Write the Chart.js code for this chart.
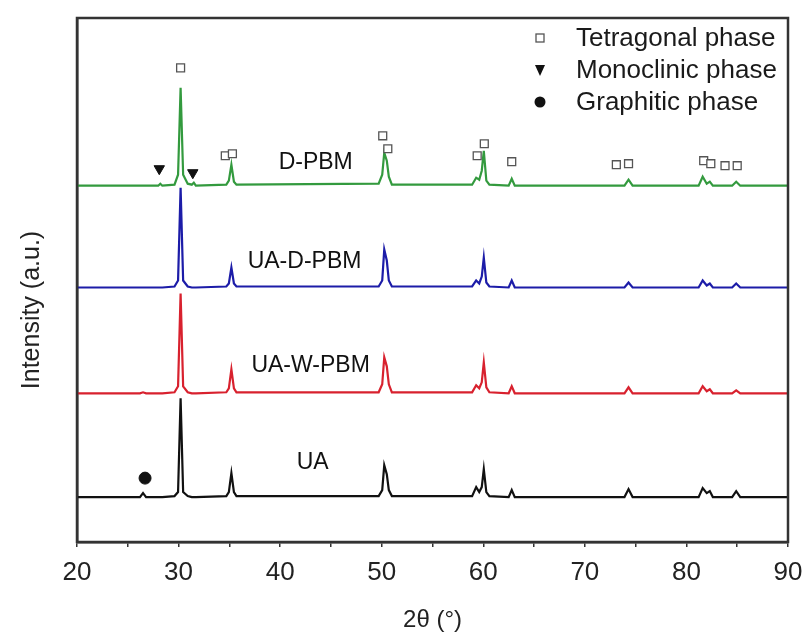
<!DOCTYPE html>
<html>
<head>
<meta charset="utf-8">
<script src="https://cdn.jsdelivr.net/npm/chart.js@4.4.1/dist/chart.umd.min.js"></script>
<style>
  html, body { margin: 0; padding: 0; background: #fff; }
  #wrap { width: 808px; height: 639px; }
</style>
</head>
<body>
<div id="wrap"><canvas id="c" width="808" height="639"></canvas></div>
<script>
// 2θ positions (degrees) at which the traces were read
const angles = [20, 26.2, 26.5, 26.8, 28.0, 28.2, 28.4, 29.6, 29.95, 30.2, 30.45, 30.9, 31.3, 31.5, 31.7,
  34.7, 34.95, 35.2, 35.45, 35.7, 49.7, 50.05, 50.25, 50.5, 50.7, 51.0, 58.9, 59.3, 59.6, 59.85, 60.05,
  60.3, 60.6, 62.5, 62.8, 63.1, 73.9, 74.3, 74.7, 81.2, 81.6, 82.0, 82.3, 82.6, 84.5, 84.9, 85.3, 90];

// Intensities (a.u., stacked as drawn)
const dPBM = [357, 357, 357, 357, 357, 359, 357, 358, 368, 455, 368, 359, 358, 360, 357,
  358, 362, 378, 361, 358, 359, 368, 390, 382, 366, 358, 358, 365, 363, 372, 392,
  362, 358, 357, 364, 357, 357, 363, 357, 357, 366, 359, 361, 357, 357, 361, 357, 357];
const uaDPBM = [255, 255, 255, 255, 255, 255, 255, 256, 262, 355, 262, 256, 255, 255, 255,
  256, 259, 275, 259, 256, 256, 262, 293, 282, 262, 256, 256, 262, 259, 266, 285,
  260, 256, 255, 262, 255, 255, 260, 255, 255, 262, 257, 259, 255, 255, 259, 255, 255];
const uaWPBM = [149, 149, 150, 149, 149, 149, 149, 150, 156, 249, 156, 150, 149, 149, 149,
  150, 154, 173, 154, 150, 150, 158, 185, 176, 158, 150, 150, 157, 154, 160, 180,
  155, 150, 149, 156, 149, 149, 155, 149, 149, 156, 151, 153, 149, 149, 152, 149, 149];
const uaOnly = [45, 45, 49, 45, 45, 45, 45, 46, 50, 144, 50, 46, 45, 45, 45,
  46, 50, 69, 50, 46, 46, 52, 77, 68, 52, 46, 46, 55, 50, 55, 73,
  50, 46, 45, 52, 45, 45, 53, 45, 45, 54, 49, 51, 45, 45, 51, 45, 45];

// Phase markers
const tetraX = [30.2, 34.6, 35.3, 50.1, 50.6, 59.4, 60.1, 62.8, 73.1, 74.3, 81.7, 82.4, 83.8, 85.0];
const tetraY = [475, 387, 389, 407, 394, 387, 399, 381, 378, 379, 382, 379, 377, 377];
const monoX = [28.1, 31.4];
const monoY = [374, 370];
const graphX = [26.7];
const graphY = [64];

// Sample names and their anchors
const sampleNames = ['D-PBM', 'UA-D-PBM', 'UA-W-PBM', 'UA'];
const nameX = [43.5, 42.4, 43.0, 43.2];
const nameY = [380, 281, 177, 79];

const legendNames = ['Tetragonal phase', 'Monoclinic phase', 'Graphitic phase'];
const yTitle = 'Intensity (a.u.)';
const xTickStep = 5;

const pts = (xs, ys) => xs.map((x, i) => ({ x: x, y: ys[i] }));
const FONT = '"Liberation Sans", Arial, Helvetica, sans-serif';

function drawMarker(ctx, kind, x, y) {
  ctx.save();
  if (kind === 0) {
    ctx.fillStyle = '#fff'; ctx.strokeStyle = '#555'; ctx.lineWidth = 1.3;
    ctx.fillRect(x - 4, y - 4, 8, 8); ctx.strokeRect(x - 4, y - 4, 8, 8);
  } else if (kind === 1) {
    ctx.fillStyle = '#111';
    ctx.beginPath(); ctx.moveTo(x - 5, y - 5); ctx.lineTo(x + 5, y - 5); ctx.lineTo(x, y + 6); ctx.closePath(); ctx.fill();
  } else {
    ctx.fillStyle = '#111';
    ctx.beginPath(); ctx.arc(x, y, 5.5, 0, Math.PI * 2); ctx.fill();
  }
  ctx.restore();
}

const decor = {
  id: 'decor',
  afterDatasetsDraw(chart) {
    const { ctx, chartArea: a, scales } = chart;
    ctx.save();
    // frame
    ctx.strokeStyle = '#333'; ctx.lineWidth = 2.5;
    ctx.strokeRect(a.left, a.top, a.right - a.left, a.bottom - a.top);
    // sample names
    ctx.fillStyle = '#111';
    ctx.font = '23px ' + FONT;
    ctx.textAlign = 'center'; ctx.textBaseline = 'middle';
    sampleNames.forEach((n, i) => {
      ctx.fillText(n, scales.x.getPixelForValue(nameX[i]), scales.y.getPixelForValue(nameY[i]));
    });
    // legend
    ctx.font = '26px ' + FONT;
    ctx.textAlign = 'left';
    ctx.fillStyle = '#1a1a1a';
    const ly = [38, 70, 102];
    legendNames.forEach((n, i) => {
      drawMarker(ctx, i, 540, ly[i]);
      ctx.fillText(n, 576, ly[i] + 1);
    });
    // y axis title
    ctx.save();
    ctx.translate(32, 310);
    ctx.rotate(-Math.PI / 2);
    ctx.textAlign = 'center'; ctx.textBaseline = 'middle';
    ctx.font = '25px ' + FONT;
    ctx.fillStyle = '#222';
    ctx.fillText(yTitle, 0, 0);
    ctx.restore();
    ctx.restore();
  }
};

new Chart(document.getElementById('c'), {
  type: 'line',
  data: {
    datasets: [
      { label: 'Tetragonal phase', data: pts(tetraX, tetraY), showLine: false, pointStyle: 'rect', pointRadius: 5.6,
        pointBackgroundColor: '#fff', pointBorderColor: '#555', pointBorderWidth: 1.3 },
      { label: 'Monoclinic phase', data: pts(monoX, monoY), showLine: false, pointStyle: 'triangle', pointRotation: 180,
        pointRadius: 6, pointBackgroundColor: '#111', pointBorderColor: '#111', pointBorderWidth: 1 },
      { label: 'Graphitic phase', data: pts(graphX, graphY), showLine: false, pointStyle: 'circle', pointRadius: 6,
        pointBackgroundColor: '#111', pointBorderColor: '#111' },
      { label: 'D-PBM', data: pts(angles, dPBM), borderColor: '#339a3e', borderWidth: 2.2, pointRadius: 0, tension: 0 },
      { label: 'UA-D-PBM', data: pts(angles, uaDPBM), borderColor: '#1c1ca8', borderWidth: 2.2, pointRadius: 0, tension: 0 },
      { label: 'UA-W-PBM', data: pts(angles, uaWPBM), borderColor: '#d8212e', borderWidth: 2.2, pointRadius: 0, tension: 0 },
      { label: 'UA', data: pts(angles, uaOnly), borderColor: '#111', borderWidth: 2.2, pointRadius: 0, tension: 0 }
    ]
  },
  options: {
    responsive: false,
    animation: false,
    devicePixelRatio: 1,
    layout: { padding: { top: 18, right: 20, left: 0, bottom: 0 } },
    plugins: { legend: { display: false }, tooltip: { enabled: false } },
    scales: {
      x: {
        type: 'linear', min: 20, max: 90,
        afterFit(s) { s.height = 97; s.paddingLeft = 0; s.paddingRight = 0; },
        border: { display: true, color: '#333', width: 2.5 },
        grid: { display: true, drawOnChartArea: false, drawTicks: true, tickLength: 5, color: '#333', lineWidth: 1.5 },
        ticks: { stepSize: xTickStep, autoSkip: false, maxRotation: 0, padding: 10, color: '#222',
          font: { family: FONT, size: 26 },
          callback: v => (v % 10 === 0 ? String(v) : '') },
        title: { display: true, text: '2θ (°)', color: '#222', font: { family: FONT, size: 24 }, padding: { top: 0, bottom: 4 } }
      },
      y: {
        min: 0, max: 525,
        afterFit(s) { s.width = 77; },
        border: { display: true, color: '#333', width: 2.5 },
        grid: { display: false, drawTicks: false },
        ticks: { display: false },
        title: { display: false }
      }
    }
  },
  plugins: [decor]
});
</script>
</body>
</html>
